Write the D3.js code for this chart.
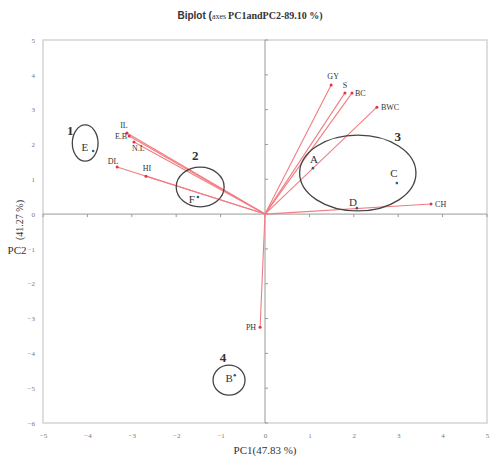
<!DOCTYPE html>
<html>
<head>
<meta charset="utf-8">
<script src="https://cdn.jsdelivr.net/npm/d3@7"></script>
<style>
  body { margin: 0; background: #fff; }
  svg { display: block; }
</style>
</head>
<body>
<div id="chart"></div>
<script>
// variable loadings (red vectors)
var varNames = ["IL", "E.B", "N.L", "DL", "HI", "GY", "S", "BC", "BWC", "CH", "PH"];
var varPC1 = [-3.11, -3.06, -2.95, -3.33, -2.68, 1.49, 1.80, 1.96, 2.52, 3.74, -0.11];
var varPC2 = [2.33, 2.24, 2.07, 1.35, 1.09, 3.71, 3.48, 3.48, 3.07, 0.29, -3.25];

// observations (blue dots)
var obsNames = ["A", "B", "C", "D", "E", "F"];
var obsPC1 = [1.08, -0.68, 2.97, 2.07, -3.87, -1.51];
var obsPC2 = [1.32, -4.63, 0.89, 0.17, 1.81, 0.49];

// groups (ellipses)
var groupNames = ["1", "2", "3", "4"];
var groupCX = [-4.05, -1.46, 2.09, -0.81];
var groupCY = [2.04, 0.78, 1.18, -4.77];
var groupRX = [0.29, 0.54, 1.31, 0.36];
var groupRY = [0.52, 0.57, 1.09, 0.43];

var xTicks = [-5, -4, -3, -2, -1, 0, 1, 2, 3, 4, 5];
var yTicks = [-6, -5, -4, -3, -2, -1, 0, 1, 2, 3, 4, 5];

var svgWidth = 491;
var svgHeight = 459;
var margin = { top: 40, right: 4, bottom: 36, left: 43 };
var width = svgWidth - margin.left - margin.right;
var height = svgHeight - margin.top - margin.bottom;

var svg = d3.select("#chart").append("svg")
    .attr("width", svgWidth)
    .attr("height", svgHeight);

var chartGroup = svg.append("g")
    .attr("transform", `translate(${margin.left}, ${margin.top})`);

var xScale = d3.scaleLinear().domain([-5, 5]).range([0, width]);
var yScale = d3.scaleLinear().domain([-6, 5]).range([height, 0]);

var serif = "'Liberation Serif', 'Times New Roman', serif";

// frame
chartGroup.append("rect")
    .attr("x", 0).attr("y", 0)
    .attr("width", width).attr("height", height)
    .attr("fill", "none")
    .attr("stroke", "#d4d4d4")
    .attr("stroke-width", 1.5);

// tick labels along the frame
var leftAxis = d3.axisLeft(yScale).tickValues(yTicks).tickSize(0).tickPadding(8);
var bottomAxis = d3.axisBottom(xScale).tickValues(xTicks).tickSize(0).tickPadding(10);

var yAxis = chartGroup.append("g").call(leftAxis);
var xAxis = chartGroup.append("g")
    .attr("transform", `translate(0, ${height})`)
    .call(bottomAxis);

[xAxis, yAxis].forEach(function(ax) {
    ax.select(".domain").remove();
    ax.selectAll("text")
        .attr("fill", "#777")
        .style("font-family", serif)
        .style("font-size", "7px");
});

// zero axes with small ticks
chartGroup.append("line")
    .attr("x1", 0).attr("x2", width)
    .attr("y1", yScale(0)).attr("y2", yScale(0))
    .attr("stroke", "#999").attr("stroke-width", 1);
chartGroup.append("line")
    .attr("x1", xScale(0)).attr("x2", xScale(0))
    .attr("y1", 0).attr("y2", height)
    .attr("stroke", "#999").attr("stroke-width", 1);

chartGroup.selectAll(".ytick").data(yTicks).enter().append("line")
    .attr("x1", xScale(0)).attr("x2", xScale(0) + 3)
    .attr("y1", d => yScale(d)).attr("y2", d => yScale(d))
    .attr("stroke", "#999");
chartGroup.selectAll(".xtick").data(xTicks).enter().append("line")
    .attr("x1", d => xScale(d)).attr("x2", d => xScale(d))
    .attr("y1", yScale(0)).attr("y2", yScale(0) + 3)
    .attr("stroke", "#999");

// vectors
var vars = varNames.map(function(n, i) { return { name: n, x: varPC1[i], y: varPC2[i] }; });

chartGroup.selectAll(".vec").data(vars).enter().append("line")
    .attr("x1", xScale(0)).attr("y1", yScale(0))
    .attr("x2", d => xScale(d.x)).attr("y2", d => yScale(d.y))
    .attr("stroke", "#f27c82")
    .attr("stroke-width", 1.1);

chartGroup.selectAll(".vecdot").data(vars).enter().append("circle")
    .attr("cx", d => xScale(d.x)).attr("cy", d => yScale(d.y))
    .attr("r", 1.5)
    .attr("fill", "#e8323c");

// label placement per variable: [dx, dy, anchor]
var varLabelPos = {
    "IL": [-3, -5, "middle"], "E.B": [-2, 3, "end"], "N.L": [-2, 9, "start"],
    "DL": [-4, -3, "middle"], "HI": [1, -5, "middle"], "GY": [2, -6, "middle"],
    "S": [0, -5, "middle"], "BC": [3, 3, "start"], "BWC": [4, 3, "start"],
    "CH": [4, 3, "start"], "PH": [-4, 3, "end"]
};

chartGroup.selectAll(".veclab").data(vars).enter().append("text")
    .attr("x", d => xScale(d.x) + varLabelPos[d.name][0])
    .attr("y", d => yScale(d.y) + varLabelPos[d.name][1])
    .attr("text-anchor", d => varLabelPos[d.name][2])
    .style("font-family", serif)
    .style("font-size", "8px")
    .attr("fill", "#333")
    .text(d => d.name);

// ellipses
var groups = groupNames.map(function(n, i) {
    return { name: n, cx: groupCX[i], cy: groupCY[i], rx: groupRX[i], ry: groupRY[i] };
});
var kx = xScale(1) - xScale(0);
var ky = yScale(0) - yScale(1);

chartGroup.selectAll(".ell").data(groups).enter().append("ellipse")
    .attr("cx", d => xScale(d.cx)).attr("cy", d => yScale(d.cy))
    .attr("rx", d => d.rx * kx).attr("ry", d => d.ry * ky)
    .attr("fill", "none")
    .attr("stroke", "#444")
    .attr("stroke-width", 1.3);

var groupLabelPos = { "1": [-15, -8], "2": [-5, -27], "3": [40, -32], "4": [-6, -18] };

chartGroup.selectAll(".elllab").data(groups).enter().append("text")
    .attr("x", d => xScale(d.cx) + groupLabelPos[d.name][0])
    .attr("y", d => yScale(d.cy) + groupLabelPos[d.name][1])
    .attr("text-anchor", "middle")
    .style("font-family", serif)
    .style("font-size", "13px")
    .style("font-weight", "bold")
    .attr("fill", "#333")
    .text(d => d.name);

// observations
var obs = obsNames.map(function(n, i) { return { name: n, x: obsPC1[i], y: obsPC2[i] }; });

chartGroup.selectAll(".obs").data(obs).enter().append("circle")
    .attr("cx", d => xScale(d.x)).attr("cy", d => yScale(d.y))
    .attr("r", 1.3)
    .attr("fill", "#2b5f86");

var obsLabelPos = {
    "A": [1, -5, "middle"], "B": [-2, 7, "end"], "C": [-3, -6, "middle"],
    "D": [-4, -2, "middle"], "E": [-5, 0, "end"], "F": [-3, 6, "end"]
};

chartGroup.selectAll(".obslab").data(obs).enter().append("text")
    .attr("x", d => xScale(d.x) + obsLabelPos[d.name][0])
    .attr("y", d => yScale(d.y) + obsLabelPos[d.name][1])
    .attr("text-anchor", d => obsLabelPos[d.name][2])
    .style("font-family", serif)
    .style("font-size", "11px")
    .attr("fill", "#333")
    .text(d => d.name);

// title
var title = svg.append("text")
    .attr("x", 250).attr("y", 19)
    .attr("text-anchor", "middle")
    .attr("fill", "#333")
    .style("font-size", "10px");
title.append("tspan").style("font-family", "'Liberation Sans', Arial, sans-serif")
    .style("font-weight", "bold").text("Biplot (");
title.append("tspan").style("font-family", serif).style("font-size", "8px").text("axes ");
title.append("tspan").style("font-family", serif)
    .style("font-weight", "bold").text("PC1andPC2-89.10 %)");

// axis titles
svg.append("text")
    .attr("x", margin.left + xScale(0)).attr("y", 454)
    .attr("text-anchor", "middle")
    .style("font-family", serif)
    .style("font-size", "11px")
    .attr("fill", "#333")
    .text("PC1(47.83 %)");

svg.append("text")
    .attr("transform", "translate(23, 220) rotate(-90)")
    .attr("text-anchor", "middle")
    .style("font-family", serif)
    .style("font-size", "10px")
    .attr("fill", "#333")
    .text("(41.27 %)");

svg.append("text")
    .attr("x", 17).attr("y", 254)
    .attr("text-anchor", "middle")
    .style("font-family", serif)
    .style("font-size", "11px")
    .attr("fill", "#333")
    .text("PC2");
</script>
</body>
</html>
